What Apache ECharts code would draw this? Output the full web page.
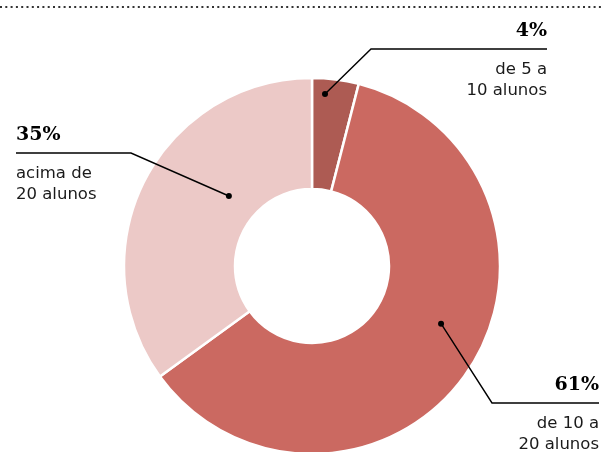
<!DOCTYPE html>
<html><head><meta charset="utf-8">
<script src="https://cdn.jsdelivr.net/npm/echarts@6/dist/echarts.min.js"></script>
<style>html,body{margin:0;padding:0;background:#fff}#c{width:603px;height:452px}</style>
</head><body><div id="c"></div>
<script>
// ---- data ----
const categories = ['de 5 a\n10 alunos', 'de 10 a\n20 alunos', 'acima de\n20 alunos'];
const values = [4, 61, 35];
const percentLabels = ['4%', '61%', '35%'];
const colors = ['#AD5B53', '#CB6961', '#ECC9C7'];

// ---- layout (positions / styles) ----
const CX = 312, CY = 266, R0 = 77, R1 = 188;
const leader = [
  {dotT: 0.30, dotR: 0.918, elbowX: 371, lineY: 49, endX: 547, align: 'right'},
  {dotT: 0.454, dotR: 0.752, elbowX: 492, lineY: 403, endX: 599, align: 'right'},
  {dotT: 0.604, dotR: 0.578, elbowX: 131, lineY: 153, endX: 16, align: 'left'}
];
const total = values.reduce((a, b) => a + b, 0);
function dotPoint(i) {
  let start = 0;
  for (let k = 0; k < i; k++) start += values[k];
  const a0 = start / total * 360, span = values[i] / total * 360;
  const ang = (a0 + leader[i].dotT * span) * Math.PI / 180;
  const r = leader[i].dotR * R1;
  return [CX + r * Math.sin(ang), CY - r * Math.cos(ang)];
}

const chart = echarts.init(document.getElementById('c'), null, {renderer: 'canvas'});
const marks = [];
values.forEach((v, i) => {
  const p = dotPoint(i), L = leader[i];
  marks.push({type: 'polyline', z: 100,
    shape: {points: [p, [L.elbowX, L.lineY], [L.endX, L.lineY]]},
    style: {stroke: '#000', lineWidth: 1.4, fill: null}});
  marks.push({type: 'circle', z: 101, shape: {cx: p[0], cy: p[1], r: 3}, style: {fill: '#000'}});
});
chart.setOption({
  animation: false,
  graphic: [
    {type: 'line', shape: {x1: 0, y1: 7, x2: 603, y2: 7},
     style: {stroke: '#333', lineWidth: 2, lineDash: [2, 3.3]}},
    ...marks
  ],
  series: [{
    type: 'pie',
    center: [CX, CY],
    radius: [R0, R1],
    startAngle: 90,
    clockwise: true,
    avoidLabelOverlap: false,
    silent: true,
    itemStyle: {borderColor: '#fff', borderWidth: 2.5},
    data: values.map((v, i) => ({value: v, name: categories[i], itemStyle: {color: colors[i]}})),
    label: {
      show: true,
      position: 'outside',
      formatter: p => {
        const lines = categories[p.dataIndex].split('\n');
        return '{p|' + percentLabels[p.dataIndex] + '}\n{g| }\n' + lines.map(l => '{t|' + l + '}').join('\n');
      },
      rich: {
        p: {fontFamily: 'DejaVu Serif', fontWeight: 'bold', fontSize: 19, lineHeight: 24, color: '#000'},
        g: {fontSize: 2, lineHeight: 16},
        t: {fontFamily: 'DejaVu Sans', fontSize: 16.5, lineHeight: 21, color: '#1a1a1a'}
      }
    },
    labelLine: {show: false},
    labelLayout: function (params) {
      const L = leader[params.dataIndex];
      return {x: L.endX, y: L.lineY - 30, align: L.align, verticalAlign: 'top'};
    }
  }]
});
</script>
</body></html>
